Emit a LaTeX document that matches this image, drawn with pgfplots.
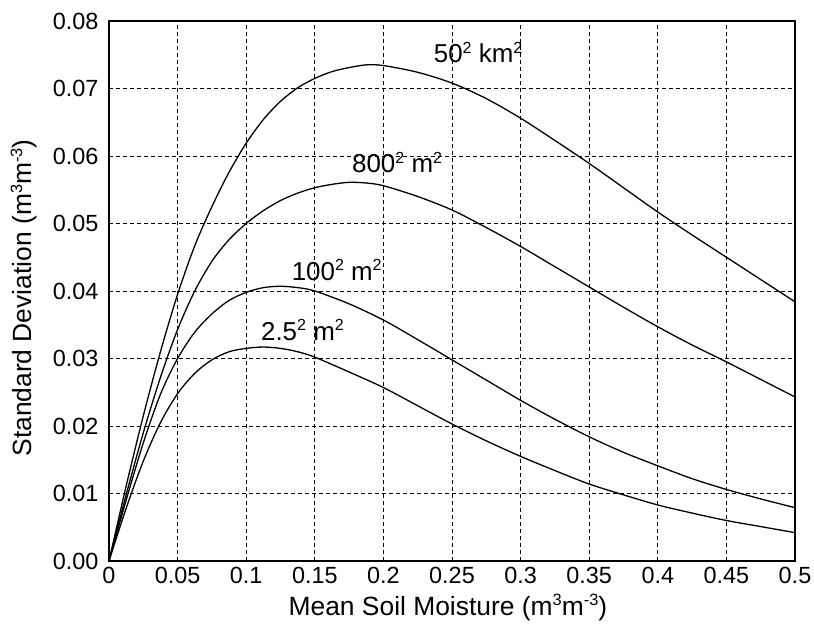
\documentclass[border=0pt]{standalone}
\usepackage{graphicx}
\usepackage{pgfplots}
\pgfplotsset{compat=1.18}
\usepackage{fontspec}
\setmainfont{Liberation Sans}
\newcommand{\sq}[1]{\raisebox{0.36em}{\scalebox{0.62}{#1}}}
\begin{document}
\begin{tikzpicture}[x=1bp,y=1bp]
\begin{axis}[
  at={(0,0)}, anchor=south west,
  scale only axis,
  width=686bp, height=540bp,
  xmin=0, xmax=0.5, ymin=0, ymax=0.08,
  xtick={0,0.05,0.1,0.15,0.2,0.25,0.3,0.35,0.4,0.45,0.5},
  xticklabels={0,0.05,0.1,0.15,0.2,0.25,0.3,0.35,0.4,0.45,0.5},
  ytick={0,0.01,0.02,0.03,0.04,0.05,0.06,0.07,0.08},
  yticklabels={0.00,0.01,0.02,0.03,0.04,0.05,0.06,0.07,0.08},
  scaled y ticks=false,
  major tick length=0pt,
  grid=major,
  major grid style={black, line width=0.7bp, dash pattern=on 4bp off 3bp},
  axis line style={black, line width=1.3bp},
  tick label style={font=\fontsize{23.5}{28}\selectfont},
  xticklabel style={yshift=-5bp, inner ysep=1bp},
  yticklabel style={xshift=-7bp},
  label style={font=\fontsize{26.5}{31}\selectfont},
  xlabel={Mean Soil Moisture (m\sq{3}m\sq{-3})},
  ylabel={Standard Deviation (m\sq{3}m\sq{-3})},
  xlabel style={at={(axis description cs:0.494,-0.1)}, anchor=base, inner ysep=1bp},
  ylabel style={at={(axis description cs:-0.124,0.487)}, anchor=center},
  clip=true,
]
% 50^2 km^2
\addplot[black, line width=1.3bp, smooth, tension=0.5] coordinates {(0,0) (0.0125,0.0111) (0.025,0.0215) (0.0375,0.0310) (0.05,0.0395) (0.0625,0.0467) (0.075,0.0525) (0.0875,0.0576) (0.1,0.0619) (0.1125,0.0654) (0.125,0.0681) (0.1375,0.0701) (0.15,0.0715) (0.1625,0.0725) (0.175,0.0731) (0.1875,0.0735) (0.2,0.0734) (0.225,0.0724) (0.25,0.0708) (0.275,0.0685) (0.3,0.0656) (0.325,0.0623) (0.35,0.0589) (0.375,0.0553) (0.4,0.0517) (0.425,0.0483) (0.45,0.0450) (0.475,0.0417) (0.5,0.0384)};
% 800^2 m^2
\addplot[black, line width=1.3bp, smooth, tension=0.5] coordinates {(0,0) (0.0125,0.0098) (0.025,0.0190) (0.0375,0.0272) (0.05,0.0343) (0.0625,0.0400) (0.075,0.0444) (0.0875,0.0476) (0.1,0.0500) (0.1125,0.0519) (0.125,0.0534) (0.1375,0.0545) (0.15,0.0553) (0.1625,0.0558) (0.175,0.0561) (0.1875,0.0560) (0.2,0.0556) (0.225,0.0540) (0.25,0.0520) (0.275,0.0494) (0.3,0.0466) (0.325,0.0436) (0.35,0.0406) (0.375,0.0376) (0.4,0.0347) (0.425,0.0320) (0.45,0.0295) (0.475,0.0269) (0.5,0.0243)};
% 100^2 m^2
\addplot[black, line width=1.3bp, smooth, tension=0.5] coordinates {(0,0) (0.0125,0.0090) (0.025,0.0175) (0.0375,0.0247) (0.05,0.0300) (0.0625,0.0339) (0.075,0.0366) (0.0875,0.0386) (0.1,0.0398) (0.1125,0.0405) (0.125,0.0407) (0.1375,0.0405) (0.15,0.0400) (0.175,0.0381) (0.2,0.0357) (0.225,0.0328) (0.25,0.0298) (0.275,0.0268) (0.3,0.0238) (0.325,0.0210) (0.35,0.0184) (0.375,0.0161) (0.4,0.0141) (0.425,0.0122) (0.45,0.0106) (0.475,0.0092) (0.5,0.0079)};
% 2.5^2 m^2
\addplot[black, line width=1.3bp, smooth, tension=0.5] coordinates {(0,0) (0.0125,0.0078) (0.025,0.0148) (0.0375,0.0205) (0.05,0.0248) (0.0625,0.0278) (0.075,0.0298) (0.0875,0.0310) (0.1,0.0315) (0.1125,0.0317) (0.125,0.0315) (0.1375,0.0310) (0.15,0.0302) (0.175,0.0280) (0.2,0.0257) (0.225,0.0230) (0.25,0.0203) (0.275,0.0178) (0.3,0.0155) (0.325,0.0134) (0.35,0.0114) (0.375,0.0098) (0.4,0.0083) (0.425,0.0071) (0.45,0.0060) (0.475,0.0051) (0.5,0.0042)};
\node[font=\fontsize{26}{30}\selectfont] at (axis cs:0.269,0.0753) {50\sq{2} km\sq{2}};
\node[font=\fontsize{26}{30}\selectfont] at (axis cs:0.210,0.0590) {800\sq{2} m\sq{2}};
\node[font=\fontsize{26}{30}\selectfont] at (axis cs:0.166,0.0431) {100\sq{2} m\sq{2}};
\node[font=\fontsize{26}{30}\selectfont] at (axis cs:0.141,0.0342) {2.5\sq{2} m\sq{2}};
\end{axis}
\pgfresetboundingbox
\path[use as bounding box] (-109bp,-64bp) rectangle (705bp,561bp);
\end{tikzpicture}
\end{document}
